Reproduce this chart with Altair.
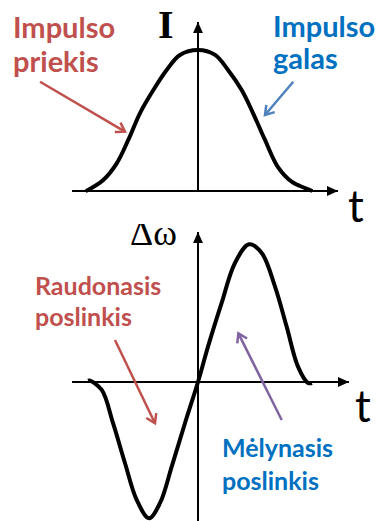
import math
import altair as alt
import pandas as pd

# Panel geometry (pixels) and data domains
W = 377
TOP_H = 224
BOT_H = 297
T_DOMAIN = [-1.8, 1.6273]
I_DOMAIN = [-0.234, 1.3546]
DW_DOMAIN = [-1.0146, 1.1533]

RED = "#C0504D"
BLUE = "#0070C0"
BLUE_ARROW = "#4F81BD"
PURPLE = "#8064A2"
LABEL_FONT = "Lato"
SYMBOL_FONT = "Liberation Serif"

# Pulse intensity I(t)
pulse_t = [-1.02, -1.0, -0.861, -0.739, -0.634, -0.527, -0.406, -0.285, -0.164, 0.0,
           0.155, 0.273, 0.397, 0.5, 0.609, 0.727, 0.855, 0.973, 1.04]
pulse_i = [0.0, 0.007, 0.078, 0.196, 0.362, 0.553, 0.716, 0.858, 0.965, 1.0,
           0.965, 0.858, 0.716, 0.553, 0.362, 0.17, 0.064, 0.021, 0.0]

# Frequency shift Δω(t)
shift_t = [-1.0, -0.982, -0.875, -0.773, -0.664, -0.557, -0.445, -0.345, -0.239, -0.118, 0.0,
           0.091, 0.215, 0.336, 0.464, 0.579, 0.7, 0.806, 0.909, 1.0, 1.036]
shift_w = [0.01, 0.01, -0.058, -0.299, -0.591, -0.861, -0.995, -0.883, -0.618, -0.299, 0.0,
           0.258, 0.577, 0.869, 1.005, 0.942, 0.696, 0.404, 0.112, -0.007, -0.007]

# Annotation arrows: start (t0, v0) -> tip (t1, v1)
top_arrow_t0 = [-1.436, 0.866]
top_arrow_v0 = [0.775, 0.775]
top_arrow_t1 = [-0.664, 0.609]
top_arrow_v1 = [0.421, 0.539]
top_arrow_color = [RED, BLUE_ARROW]

bot_arrow_t0 = [-0.755, 0.761]
bot_arrow_v0 = [0.307, -0.277]
bot_arrow_t1 = [-0.391, 0.367]
bot_arrow_v1 = [-0.301, 0.355]
bot_arrow_color = [RED, PURPLE]

# Text labels (left edge t, baseline value)
top_labels = ["Impulso", "priekis", "Impulso", "galas"]
top_label_t = [-1.682, -1.682, 0.682, 0.682]
top_label_v = [1.085, 0.844, 1.092, 0.865]
top_label_color = [RED, RED, BLUE, BLUE]

bot_labels = ["Raudonasis", "poslinkis", "Mėlynasis", "poslinkis"]
bot_label_t = [-1.482, -1.482, 0.218, 0.218]
bot_label_v = [0.635, 0.409, -0.548, -0.788]
bot_label_color = [RED, RED, BLUE, BLUE]

# Axes: x axis start/tip, y axis bottom/tip
top_xaxis = [-1.145, 1.273]
top_yaxis = [0.0, 1.199]
bot_xaxis = [-1.145, 1.373]
bot_yaxis = [-1.0146, 1.095]

CHEVRON = "M-0.55,0.85L0,0L0.55,0.85"
TRIANGLE = "M0,0L-0.45,1L0.45,1Z"

X = alt.Scale(domain=T_DOMAIN, nice=False, zero=False)


def yscale(dom):
    return alt.Scale(domain=dom, nice=False, zero=False)


def panel(height, ydom, curve_t, curve_v, xaxis, yaxis,
          at0, av0, at1, av1, acol, labels, lt, lv, lcol, label_size,
          sym_text, sym_t, sym_v, sym_size, t_label_t, t_label_v, sym_bold):
    Y = yscale(ydom)
    sx = W / (T_DOMAIN[1] - T_DOMAIN[0])
    sy = height / (ydom[1] - ydom[0])

    curve = alt.Chart(pd.DataFrame({"t": curve_t, "v": curve_v})).mark_line(
        color="black", strokeWidth=4, interpolate="catmull-rom", clip=True
    ).encode(x=alt.X("t:Q", scale=X, axis=None), y=alt.Y("v:Q", scale=Y, axis=None))

    axes_df = pd.DataFrame({
        "x": [xaxis[0], 0.0], "x2": [xaxis[1], 0.0],
        "y": [0.0, yaxis[0]], "y2": [0.0, yaxis[1]],
    })
    axes = alt.Chart(axes_df).mark_rule(color="black", strokeWidth=2, clip=True).encode(
        x=alt.X("x:Q", scale=X, axis=None), x2="x2:Q",
        y=alt.Y("y:Q", scale=Y, axis=None), y2="y2:Q")

    heads_df = pd.DataFrame({"x": [xaxis[1], 0.0], "y": [0.0, yaxis[1]], "a": [90, 0]})
    heads = alt.Chart(heads_df).mark_point(
        shape=TRIANGLE, filled=True, color="black", size=484, opacity=1, clip=True
    ).encode(x=alt.X("x:Q", scale=X, axis=None), y=alt.Y("y:Q", scale=Y, axis=None),
             angle=alt.Angle("a:Q", scale=None))

    angles = []
    for a, b, c, d in zip(at0, av0, at1, av1):
        ang = math.degrees(math.atan2((c - a) * sx, (d - b) * sy)) % 360
        angles.append(ang)
    arr_df = pd.DataFrame({"t0": at0, "v0": av0, "t1": at1, "v1": av1,
                           "c": acol, "a": angles})
    shafts = alt.Chart(arr_df).mark_rule(strokeWidth=2.5, clip=True).encode(
        x=alt.X("t0:Q", scale=X, axis=None), x2="t1:Q",
        y=alt.Y("v0:Q", scale=Y, axis=None), y2="v1:Q",
        color=alt.Color("c:N", scale=None))
    tips = alt.Chart(arr_df).mark_point(
        shape=CHEVRON, filled=False, strokeWidth=2.5, size=400, opacity=1, clip=True
    ).encode(x=alt.X("t1:Q", scale=X, axis=None), y=alt.Y("v1:Q", scale=Y, axis=None),
             stroke=alt.Color("c:N", scale=None), angle=alt.Angle("a:Q", scale=None))

    lab_df = pd.DataFrame({"s": labels, "t": lt, "v": lv, "c": lcol})
    texts = alt.Chart(lab_df).mark_text(
        font=LABEL_FONT, fontWeight="bold", fontSize=label_size,
        align="left", baseline="alphabetic", clip=True
    ).encode(x=alt.X("t:Q", scale=X, axis=None), y=alt.Y("v:Q", scale=Y, axis=None),
             text="s:N", color=alt.Color("c:N", scale=None))

    sym = alt.Chart(pd.DataFrame({"s": [sym_text], "t": [sym_t], "v": [sym_v]})).mark_text(
        font=SYMBOL_FONT, fontSize=sym_size, fontWeight="bold" if sym_bold else "normal",
        color="black", align="left", baseline="alphabetic", clip=True
    ).encode(x=alt.X("t:Q", scale=X, axis=None), y=alt.Y("v:Q", scale=Y, axis=None), text="s:N")

    tlab = alt.Chart(pd.DataFrame({"s": ["t"], "t": [t_label_t], "v": [t_label_v]})).mark_text(
        font=LABEL_FONT, fontSize=44, color="black", align="left",
        baseline="alphabetic", clip=True
    ).encode(x=alt.X("t:Q", scale=X, axis=None), y=alt.Y("v:Q", scale=Y, axis=None), text="s:N")

    return alt.layer(axes, heads, curve, shafts, tips, texts, sym, tlab).properties(
        width=W, height=height)


top = panel(TOP_H, I_DOMAIN, pulse_t, pulse_i, top_xaxis, top_yaxis,
            top_arrow_t0, top_arrow_v0, top_arrow_t1, top_arrow_v1, top_arrow_color,
            top_labels, top_label_t, top_label_v, top_label_color, 29,
            "I", -0.364, 1.085, 40, 1.364, -0.22, True)

bottom = panel(BOT_H, DW_DOMAIN, shift_t, shift_w, bot_xaxis, bot_yaxis,
               bot_arrow_t0, bot_arrow_v0, bot_arrow_t1, bot_arrow_v1, bot_arrow_color,
               bot_labels, bot_label_t, bot_label_v, bot_label_color, 25,
               "Δω", -0.618, 1.0, 36, 1.427, -0.292, False)

chart = alt.vconcat(top, bottom, spacing=0).properties(
    padding=0, background="white"
).configure_view(stroke=None)

chart.save("out.html", embed_options={"renderer": "svg", "actions": False})
